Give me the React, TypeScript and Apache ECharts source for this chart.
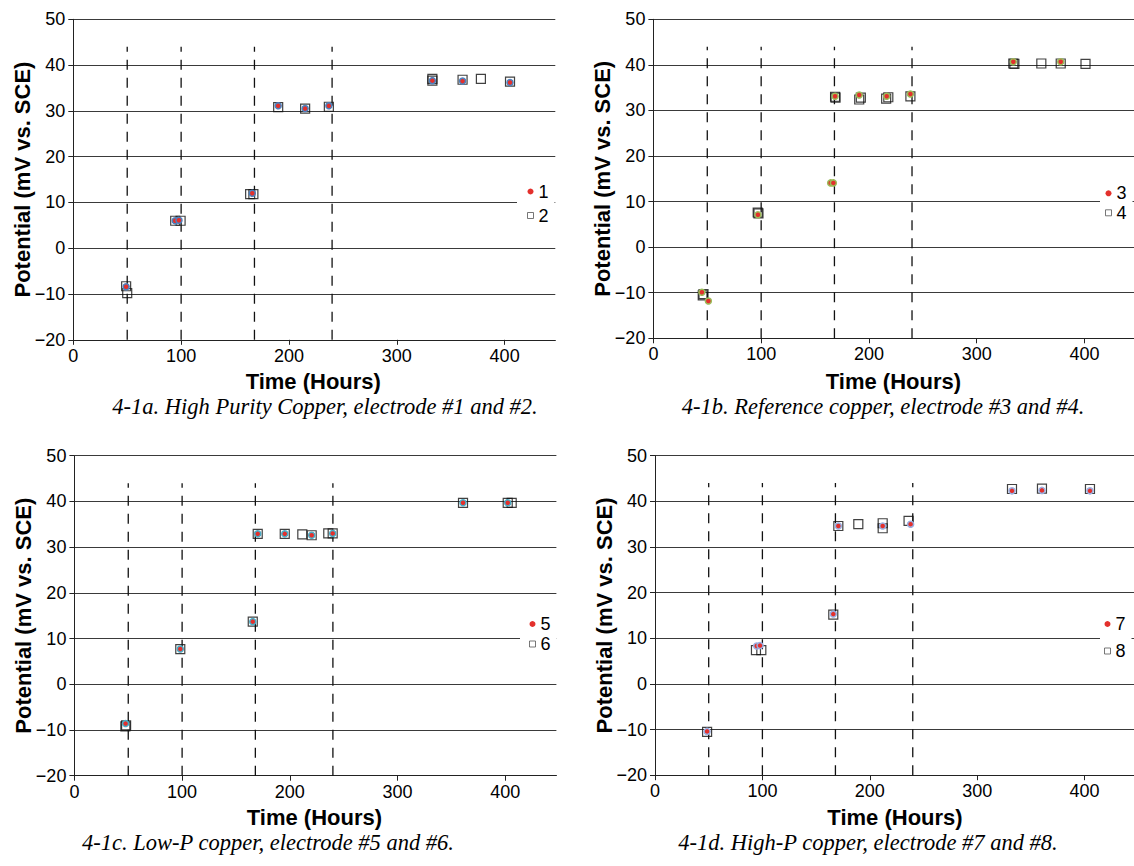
import React, { useEffect, useRef } from "react";
import * as echarts from "echarts";

// ---------- data ----------
const xTickValues = [0, 100, 200, 300, 400];
const dashHours = [50, 100, 168, 240];
const dashRange = [-20, 44];

// Panel a: High Purity Copper
const e1Hours = [49, 94.5, 98, 166, 190, 215, 237, 333, 361, 405];
const e1Values = [-8.4, 6.0, 6.1, 12.0, 31.1, 30.5, 31.1, 36.6, 36.5, 36.2];
const e2Hours = [49, 50, 94.5, 99.5, 164, 167, 190, 215, 237, 333, 333, 361, 378, 405];
const e2Values = [-8.3, -9.8, 6.0, 6.0, 11.8, 11.8, 30.8, 30.5, 30.9, 37.0, 36.6, 36.8, 37.0, 36.4];

// Panel b: Reference copper
const e3Hours = [45, 51, 97, 164.5, 167, 168.6, 191, 216.5, 238.5, 334, 378];
const e3Values = [-9.9, -11.8, 7.1, 14.1, 14.1, 33.1, 33.4, 33.1, 33.6, 40.7, 40.7];
const e4Hours = [45.8, 46.5, 96.8, 97.5, 168.6, 169, 191, 192.5, 216, 218, 238.5, 334, 335, 360, 378, 401];
const e4Values = [-10.6, -10.3, 7.6, 7.4, 33.0, 32.8, 32.4, 32.8, 32.6, 32.9, 33.1, 40.3, 40.2, 40.3, 40.3, 40.2];

// Panel c: Low-P copper
const e5Hours = [47.5, 98.3, 165.6, 170.2, 195.3, 220.3, 239.8, 360.8, 402.3];
const e5Values = [-8.6, 7.7, 13.7, 32.9, 32.9, 32.6, 33.0, 39.7, 39.7];
const e6Hours = [47.3, 48, 98.3, 165.6, 170.2, 195.3, 211.6, 220.3, 235.7, 239.8, 360.8, 402.3, 406];
const e6Values = [-9.2, -9.0, 7.7, 13.7, 32.9, 32.9, 32.8, 32.6, 33.0, 33.0, 39.7, 39.7, 39.7];

// Panel d: High-P copper
const e7Hours = [48.5, 94.7, 97.8, 166, 170.7, 212, 238, 332.4, 360.3, 405];
const e7Values = [-10.4, 8.3, 8.4, 15.3, 34.6, 34.6, 35.0, 42.3, 42.4, 42.3];
const e8Hours = [48.5, 94, 99, 166, 170.7, 189.3, 212, 212, 236.1, 332.4, 360.3, 405];
const e8Values = [-10.5, 7.4, 7.4, 15.2, 34.6, 35.0, 35.2, 34.1, 35.7, 42.7, 42.8, 42.7];

const circleNames = ["1", "3", "5", "7"];
const squareNames = ["2", "4", "6", "8"];
const circleHours = [e1Hours, e3Hours, e5Hours, e7Hours];
const circleValues = [e1Values, e3Values, e5Values, e7Values];
const squareHours = [e2Hours, e4Hours, e6Hours, e8Hours];
const squareValues = [e2Values, e4Values, e6Values, e8Values];

const captions = [
  "4-1a. High Purity Copper, electrode #1 and #2.",
  "4-1b. Reference copper, electrode #3 and #4.",
  "4-1c. Low-P copper, electrode #5 and #6.",
  "4-1d. High-P copper, electrode #7 and #8.",
];
const xTitle = "Time (Hours)";
const yTitle = "Potential (mV vs. SCE)";

// ---------- layout / style ----------
const grids = [
  { left: 73.3, top: 19.3, width: 482, height: 320.5 },
  { left: 653.4, top: 19.3, width: 480.6, height: 319 },
  { left: 74.4, top: 455.7, width: 482, height: 320 },
  { left: 655, top: 455.7, width: 479, height: 319.5 },
];
const xMax = [447, 446, 447.5, 446];
const legendLayout = [
  { left: 517, top: 180.5, gap: 6, padL: 10 },
  { left: 1100, top: 182.3, gap: 1.5, padL: 5 },
  { left: 520, top: 613, gap: 2, padL: 9 },
  { left: 1100, top: 613, gap: 9, padL: 4 },
];
const xTitleY = [381, 381, 817, 817];
const captionPos = [
  { x: 325, y: 406 },
  { x: 883, y: 406 },
  { x: 268, y: 842 },
  { x: 868, y: 842 },
];
const haloColors = ["#4f81bd", "#9bbb59", "#4bacc6", "#9aaee0"];
const dotColor = "#e3302c";
const SANS = "'Liberation Sans', Arial, sans-serif";
const SERIF = "'Liberation Serif', 'Times New Roman', serif";

const fmt = (v: number) => (v < 0 ? "\u2212" + Math.abs(v) : String(v));
const zip = (a: number[], b: number[]) => a.map((h, i) => [h, b[i]]);

function buildOption() {
  const grid: any[] = [];
  const xAxis: any[] = [];
  const yAxis: any[] = [];
  const series: any[] = [];
  const legend: any[] = [];
  const graphic: any[] = [];

  grids.forEach((g, p) => {
    grid.push({ left: g.left, top: g.top, width: g.width, height: g.height, containLabel: false });
    xAxis.push({
      type: "value",
      gridIndex: p,
      min: 0,
      max: xMax[p],
      interval: 100,
      axisLine: { show: true, onZero: false, lineStyle: { color: "#222", width: 1 } },
      axisTick: { show: true, length: 5, customValues: xTickValues, lineStyle: { color: "#222" } },
      axisLabel: { customValues: xTickValues, fontSize: 18, color: "#000", fontFamily: SANS, margin: 7 },
      splitLine: { show: false },
    });
    yAxis.push({
      type: "value",
      gridIndex: p,
      min: -20,
      max: 50,
      interval: 10,
      axisLine: { show: true, onZero: false, lineStyle: { color: "#222", width: 1 } },
      axisTick: { show: true, length: 5, lineStyle: { color: "#222" } },
      axisLabel: { formatter: fmt, fontSize: 18, color: "#000", fontFamily: SANS, margin: 8 },
      splitLine: { show: true, lineStyle: { color: "#3a3a3a", width: 1 } },
    });

    dashHours.forEach((h) => {
      series.push({
        type: "line",
        xAxisIndex: p,
        yAxisIndex: p,
        data: [[h, dashRange[0]], [h, dashRange[1]]],
        symbol: "none",
        silent: true,
        z: 1,
        lineStyle: { color: "#111", width: 1.3, type: [10, 8] },
      });
    });

    series.push({
      name: squareNames[p],
      type: "scatter",
      xAxisIndex: p,
      yAxisIndex: p,
      symbol: "rect",
      symbolSize: 9,
      z: 3,
      itemStyle: { color: "rgba(255,255,255,0)", borderColor: "#111", borderWidth: 1.2 },
      data: zip(squareHours[p], squareValues[p]),
    });
    series.push({
      name: circleNames[p],
      type: "scatter",
      xAxisIndex: p,
      yAxisIndex: p,
      symbol: "circle",
      symbolSize: 6,
      z: 4,
      itemStyle: { color: dotColor, borderColor: haloColors[p], borderWidth: 1.5, opacity: 1 },
      data: zip(circleHours[p], circleValues[p]),
    });

    const L = legendLayout[p];
    legend.push({
      orient: "vertical",
      left: L.left,
      top: L.top,
      padding: [2, 6, 2, L.padL],
      itemGap: L.gap,
      itemWidth: 6,
      itemHeight: 6,
      backgroundColor: "#ffffff",
      selectedMode: false,
      textStyle: { fontSize: 18, color: "#000", fontFamily: SANS, padding: [0, 0, 0, 0] },
      data: [
        { name: circleNames[p], icon: "circle", itemStyle: { color: dotColor, borderWidth: 0 } },
        { name: squareNames[p], icon: "rect", itemStyle: { color: "#fff", borderColor: "#555", borderWidth: 1 } },
      ],
    });

    graphic.push({
      type: "text",
      x: g.left + 240,
      y: xTitleY[p],
      style: {
        text: xTitle,
        font: `bold 22px ${SANS}`,
        fill: "#000",
        textAlign: "center",
        textVerticalAlign: "middle",
        align: "center",
        verticalAlign: "middle",
      },
    });
    graphic.push({
      type: "text",
      x: g.left - 51,
      y: g.top + g.height / 2,
      rotation: Math.PI / 2,
      style: {
        text: yTitle,
        font: `bold 22px ${SANS}`,
        fill: "#000",
        textAlign: "center",
        textVerticalAlign: "middle",
        align: "center",
        verticalAlign: "middle",
      },
    });
    graphic.push({
      type: "text",
      x: captionPos[p].x,
      y: captionPos[p].y,
      style: {
        text: captions[p],
        font: `italic 22.5px ${SERIF}`,
        fill: "#000",
        textAlign: "center",
        textVerticalAlign: "middle",
        align: "center",
        verticalAlign: "middle",
      },
    });
  });

  return {
    animation: false,
    backgroundColor: "#ffffff",
    grid,
    xAxis,
    yAxis,
    series,
    legend,
    graphic,
  };
}

export default function App() {
  const ref = useRef<HTMLDivElement>(null);
  useEffect(() => {
    if (!ref.current) return;
    const chart = echarts.init(ref.current, null, { renderer: "svg" });
    chart.setOption(buildOption() as any);
    return () => chart.dispose();
  }, []);
  return (
    <div
      ref={ref}
      style={{ position: "absolute", left: 0, top: 0, width: 1134, height: 866 }}
    />
  );
}
